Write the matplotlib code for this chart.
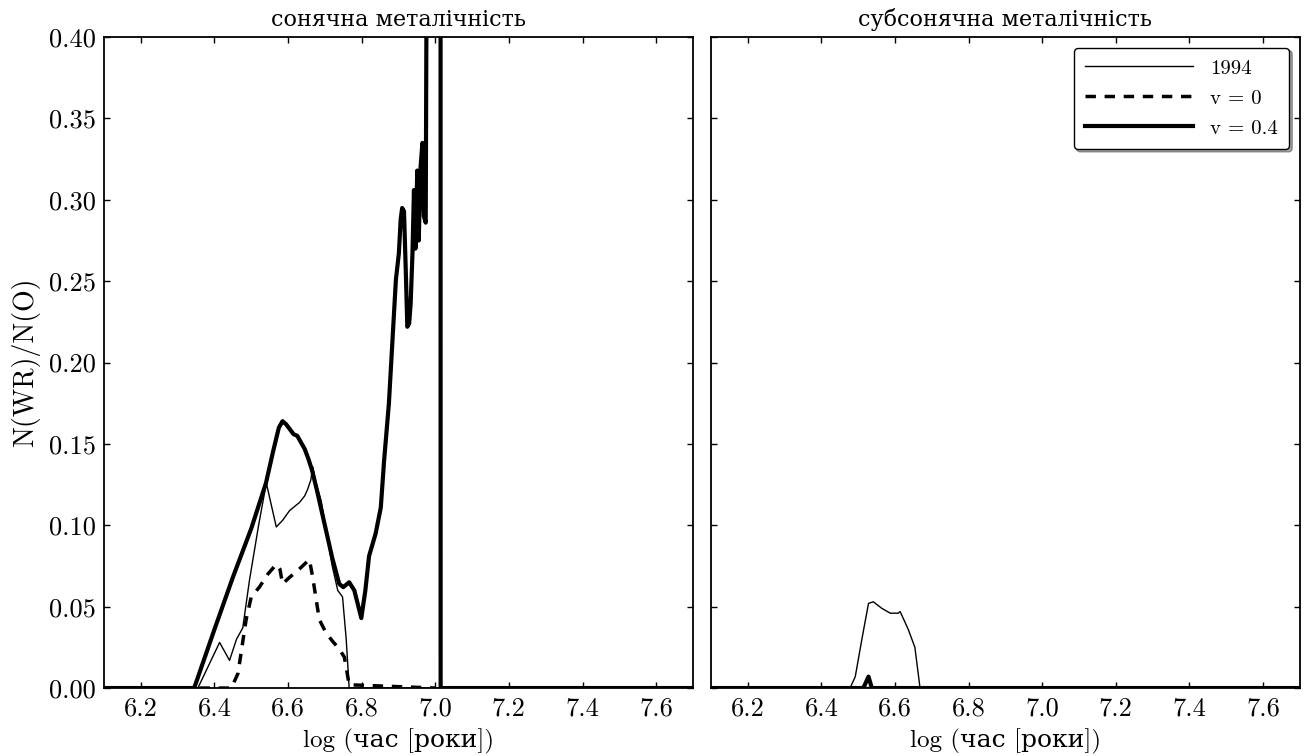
import matplotlib
matplotlib.use("Agg")
import matplotlib.pyplot as plt
from matplotlib.ticker import FormatStrFormatter, MultipleLocator

plt.rcParams['font.family'] = ['cmr10', 'DejaVu Serif']
plt.rcParams['axes.formatter.use_mathtext'] = True
plt.rcParams['mathtext.fontset'] = 'cm'

# --- solar metallicity panel ---
sol_1994_x = [6.10, 6.355, 6.414, 6.441, 6.46, 6.477, 6.495, 6.52, 6.541, 6.568, 6.585, 6.604,
              6.62, 6.631, 6.645, 6.653, 6.662, 6.667, 6.676, 6.69, 6.705, 6.72, 6.735, 6.748,
              6.758, 6.766, 7.70]
sol_1994_y = [0, 0, 0.028, 0.017, 0.030, 0.037, 0.066, 0.100, 0.126, 0.099, 0.103, 0.109,
              0.112, 0.114, 0.118, 0.122, 0.128, 0.136, 0.126, 0.115, 0.095, 0.075, 0.060, 0.056,
              0.030, 0, 0]

sol_v0_x = [6.10, 6.446, 6.464, 6.486, 6.50, 6.522, 6.545, 6.568, 6.578, 6.585, 6.604, 6.63,
            6.658, 6.667, 6.685, 6.703, 6.72, 6.739, 6.753, 6.766, 7.00]
sol_v0_y = [0, 0, 0.009, 0.042, 0.056, 0.062, 0.070, 0.076, 0.073, 0.064, 0.068, 0.073,
            0.079, 0.068, 0.042, 0.034, 0.029, 0.024, 0.019, 0.002, 0]

sol_v04_x = [6.10, 6.345, 6.40, 6.45, 6.50, 6.54, 6.56, 6.575, 6.585, 6.595, 6.605, 6.615,
             6.625, 6.635, 6.645, 6.655, 6.665, 6.68, 6.70, 6.72, 6.739, 6.75, 6.766, 6.78,
             6.799, 6.81, 6.82, 6.838, 6.852, 6.861, 6.874, 6.893, 6.901, 6.906, 6.91, 6.915,
             6.92, 6.924, 6.929, 6.933, 6.938, 6.942, 6.946, 6.951, 6.955, 6.960, 6.965, 6.969,
             6.974, 6.985, 7.014, 7.0145, 7.70]
sol_v04_y = [0, 0, 0.036, 0.068, 0.098, 0.126, 0.146, 0.160, 0.164, 0.162, 0.159, 0.156,
             0.155, 0.151, 0.147, 0.141, 0.134, 0.120, 0.100, 0.080, 0.064, 0.062, 0.065, 0.060,
             0.043, 0.060, 0.081, 0.095, 0.111, 0.140, 0.175, 0.251, 0.267, 0.288, 0.295, 0.293,
             0.255, 0.222, 0.224, 0.236, 0.267, 0.306, 0.270, 0.318, 0.275, 0.320, 0.335, 0.290,
             0.286, 1.0, 1.0, 0, 0]

# --- subsolar metallicity panel ---
sub_1994_x = [6.10, 6.478, 6.492, 6.51, 6.528, 6.541, 6.564, 6.587, 6.609, 6.614, 6.636,
              6.654, 6.668, 7.70]
sub_1994_y = [0, 0, 0.007, 0.030, 0.052, 0.053, 0.049, 0.046, 0.046, 0.047, 0.036,
              0.025, 0, 0]

sub_v0_x = [6.10, 7.70]
sub_v0_y = [0, 0]

sub_v04_x = [6.10, 6.514, 6.528, 6.537, 7.70]
sub_v04_y = [0, 0, 0.007, 0, 0]

titles = ["сонячна металічність", "субсонячна металічність"]
labels = ["1994", "v = 0", "v = 0.4"]
xlabel = "log (час [роки])"
ylabel = "N(WR)/N(O)"

fig = plt.figure(figsize=(13.05, 7.56), dpi=100)
ax1 = fig.add_axes([0.0797, 0.0899, 0.4513, 0.861])
ax2 = fig.add_axes([0.5448, 0.0899, 0.4513, 0.861], sharey=ax1)

panels = [
    (ax1, sol_1994_x, sol_1994_y, sol_v0_x, sol_v0_y, sol_v04_x, sol_v04_y),
    (ax2, sub_1994_x, sub_1994_y, sub_v0_x, sub_v0_y, sub_v04_x, sub_v04_y),
]

for i, (ax, tx, ty, dx, dy, kx, ky) in enumerate(panels):
    ax.plot(tx, ty, "-", color="black", lw=1.0, label=labels[0])
    ax.plot(dx, dy, "--", color="black", lw=2.5, dashes=(3, 2.5), label=labels[1])
    ax.plot(kx, ky, "-", color="black", lw=3.0, label=labels[2])
    ax.set_xlim(6.1, 7.7)
    ax.set_ylim(0, 0.4)
    ax.xaxis.set_major_locator(MultipleLocator(0.2))
    ax.yaxis.set_major_locator(MultipleLocator(0.05))
    ax.xaxis.set_major_formatter(FormatStrFormatter('%.1f'))
    ax.yaxis.set_major_formatter(FormatStrFormatter('%.2f'))
    ax.tick_params(direction='in', top=True, right=True, length=4.5, width=1,
                   labelsize=19, pad=6)
    for s in ax.spines.values():
        s.set_linewidth(1.3)
    ax.set_title(titles[i], fontsize=16, pad=8)
    ax.set_xlabel(xlabel, fontsize=18, labelpad=6)

ax1.set_ylabel(ylabel, fontsize=20, labelpad=6)
ax2.tick_params(labelleft=False)

leg = ax2.legend(loc="upper right", fontsize=15, handlelength=5.2, fancybox=True,
                 shadow=True, framealpha=1, edgecolor="black", borderpad=0.55,
                 labelspacing=0.55, borderaxespad=0.5, bbox_to_anchor=(1.0, 1.0))
leg.get_frame().set_linewidth(1.0)

fig.savefig("out.png", dpi=100)
